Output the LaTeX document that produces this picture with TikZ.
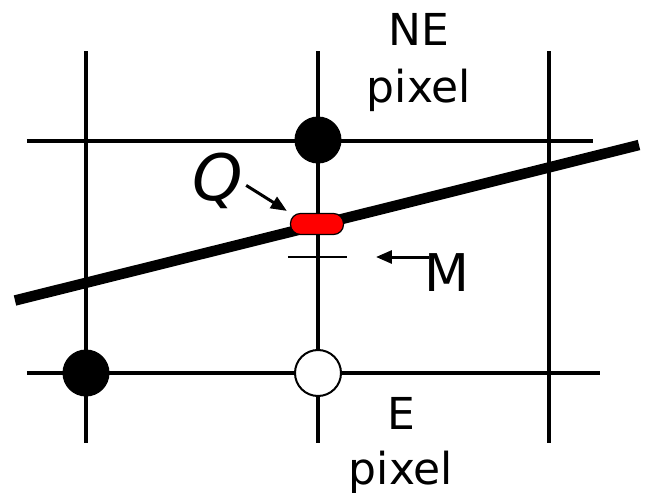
\documentclass[tikz,border=0pt]{standalone}
\usepackage{fontspec}
\setmainfont{DejaVu Sans}[ItalicFont={DejaVu Sans Oblique}]
\usetikzlibrary{arrows.meta,calc}

\begin{document}
\begin{tikzpicture}[x=0.5pt,y=-0.5pt,
  grid/.style={line width=1.6pt},
  pixfull/.style={circle,draw,fill=black,line width=0.5pt,minimum size=23pt,inner sep=0pt},
  pixopen/.style={circle,draw,fill=white,line width=1pt,minimum size=23pt,inner sep=0pt},
  arr/.style={line width=1.5pt,-{Triangle[length=8pt,width=6.5pt]}},
  lbl/.style={inner sep=0pt,align=center,anchor=north}]
\useasboundingbox (0,0) rectangle (645,493);
\foreach \x in {86,318,549}{\draw[grid] (\x,51) -- (\x,443);}
\draw[grid] (27,141) -- (593,141);
\draw[grid] (27,373) -- (600,373);
\node[pixfull] (ne) at (318,140) {};
\node[pixfull] (p) at (86,373) {};
\node[pixopen] (e) at (318,373) {};
\coordinate (L) at (15,300.5); \coordinate (R) at (639,145);
\draw[line width=5.25pt] (L) -- (R);
\coordinate (tl) at (288,257); \coordinate (tr) at (347,257);
\draw[line width=1.4pt] (tl) -- (tr);
\node[draw,fill=red,line width=0.6pt,rounded corners=5pt,minimum width=26.5pt,minimum height=10.5pt,inner sep=0pt] (seg) at (317,224) {};
\node[lbl,font=\fontsize{22}{28.5}\selectfont] (nelbl) at (419,13) {NE\\pixel};
\node[lbl,font=\fontsize{22}{27.5}\selectfont] (elbl) at (401,397) {E\\pixel};
\node[inner sep=0pt,anchor=base west,font=\fontsize{32}{38}\selectfont\itshape] (q) at (192,200) {Q};
\node[inner sep=0pt,anchor=base west,font=\fontsize{26}{31}\selectfont] (m) at (424,291) {M};
\draw[arr] ($(q.east)+(3,5)$) -- ($(seg.north west)+(-3,-2)$);
\draw[arr,shorten <=-2.5pt,shorten >=14.5pt] (m.west |- tr) -- (tr);
\end{tikzpicture}
\end{document}
